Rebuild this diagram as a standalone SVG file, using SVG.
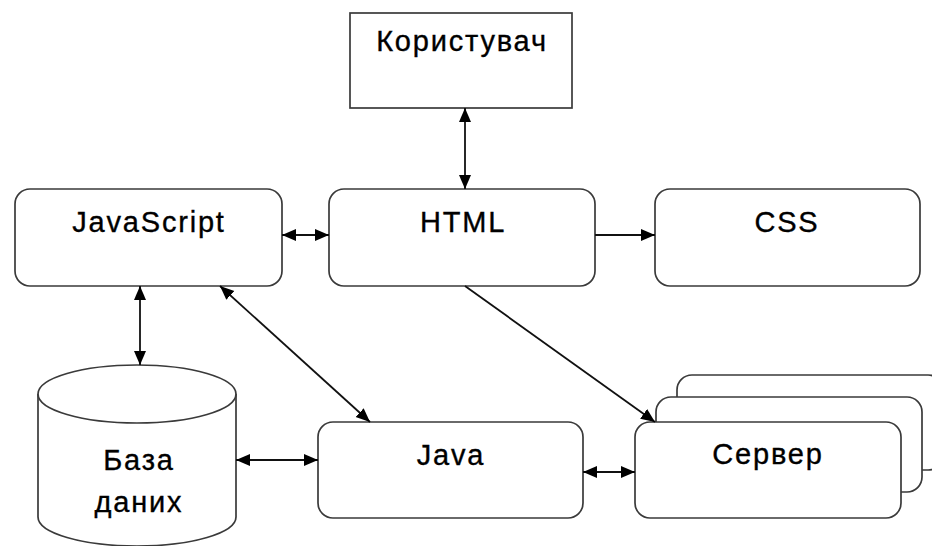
<svg xmlns="http://www.w3.org/2000/svg" width="932" height="546" viewBox="0 0 932 546">
<style>
.box{fill:#fff;stroke:#3a3a3a;stroke-width:1.7}
.lbl{font-family:"Liberation Sans",Arial,sans-serif;font-size:29px;letter-spacing:1.8px;fill:#000;stroke:#000;stroke-width:0.35;text-anchor:middle}
.con{stroke:#111;stroke-width:1.8;fill:none}
</style>
<defs>
<marker id="ah" markerUnits="userSpaceOnUse" markerWidth="15" markerHeight="13" refX="14" refY="6" orient="auto-start-reverse">
<path d="M0,0 L14,6 L0,12 z" fill="#000"/>
</marker>
</defs>
<rect width="932" height="546" fill="#fff"/>
<g id="user">
<rect class="box" x="350" y="13" width="222" height="95"/>
<text class="lbl" x="462" y="51">Користувач</text>
</g>
<g id="javascript">
<rect class="box" x="15" y="189" width="267" height="97" rx="15"/>
<text class="lbl" x="149" y="232">JavaScript</text>
</g>
<g id="html">
<rect class="box" x="329" y="189" width="266" height="97" rx="15"/>
<text class="lbl" x="463" y="232">HTML</text>
</g>
<g id="css">
<rect class="box" x="655" y="189" width="265" height="97" rx="15"/>
<text class="lbl" x="787" y="232">CSS</text>
</g>
<g id="db">
<path class="box" d="M38,394 L38,517 A99,29 0 0 0 236,517 L236,394"/>
<ellipse class="box" cx="137" cy="394" rx="99" ry="29"/>
<text class="lbl" x="139" y="470">База</text>
<text class="lbl" x="139" y="512">даних</text>
</g>
<g id="java">
<rect class="box" x="318" y="422" width="265" height="96" rx="15"/>
<text class="lbl" x="451" y="465">Java</text>
</g>
<g id="server">
<rect class="box" x="677" y="375" width="266" height="95" rx="15"/>
<rect class="box" x="656" y="397" width="266" height="95" rx="15"/>
<rect class="box" x="635" y="422" width="266" height="96" rx="15"/>
<text class="lbl" x="768" y="464">Сервер</text>
</g>
<g id="connectors">
<line class="con" x1="465" y1="108" x2="465" y2="189" marker-start="url(#ah)" marker-end="url(#ah)"/>
<line class="con" x1="282" y1="235" x2="329" y2="235" marker-start="url(#ah)" marker-end="url(#ah)"/>
<line class="con" x1="595" y1="235" x2="655" y2="235" marker-end="url(#ah)"/>
<line class="con" x1="140" y1="286" x2="140" y2="365" marker-start="url(#ah)" marker-end="url(#ah)"/>
<line class="con" x1="220" y1="286" x2="370" y2="422" marker-start="url(#ah)" marker-end="url(#ah)"/>
<line class="con" x1="465" y1="286" x2="655" y2="422" marker-end="url(#ah)"/>
<line class="con" x1="236" y1="460" x2="318" y2="460" marker-start="url(#ah)" marker-end="url(#ah)"/>
<line class="con" x1="583" y1="472" x2="635" y2="472" marker-start="url(#ah)" marker-end="url(#ah)"/>
</g>
</svg>
